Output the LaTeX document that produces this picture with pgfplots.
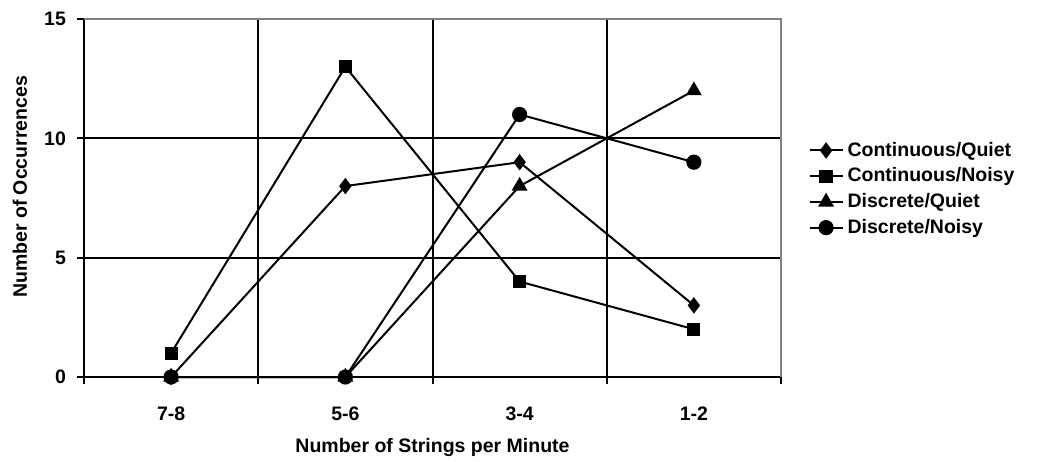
\documentclass[border=0pt]{standalone}
\usepackage{fontspec}
\setmainfont{Liberation Sans}
\usepackage{pgfplots}
\pgfplotsset{compat=1.18}
\begin{document}
\begin{tikzpicture}
\useasboundingbox (-42pt,-42pt) rectangle (485.5pt,188.5pt);
\begin{axis}[
  at={(0,0)}, anchor=south west,
  scale only axis, width=348.5pt, height=179pt,
  xmin=0, xmax=4, ymin=0, ymax=15,
  axis x line*=bottom, axis y line*=left,
  axis line style={line width=1pt, black, -},
  xtick={0.5,1.5,2.5,3.5},
  xticklabels={7-8,5-6,3-4,1-2},
  major x tick style={draw=none},
  minor xtick={0,1,2,3,4},
  minor x tick style={line width=1pt, black},
  minor tick length=3.5pt,
  ytick={0,5,10,15},
  y tick style={line width=1pt, black},
  major tick length=3.5pt,
  tick align=outside,
  extra x ticks={1,2,3}, extra x tick labels={},
  extra x tick style={grid=major, major tick length=0pt},
  extra y ticks={5,10}, extra y tick labels={},
  extra y tick style={grid=major, major tick length=0pt},
  grid style={line width=1pt, black},
  /pgf/number format/assume math mode=true,
  ticklabel style={font=\fontsize{9.75}{11}\selectfont\bfseries},
  xticklabel style={yshift=-8pt},
  yticklabel style={xshift=-2pt},
  xlabel={\fontsize{9.75}{11}\selectfont\bfseries Number of Strings per Minute},
  ylabel={\fontsize{9.75}{11}\selectfont\bfseries Number of Occurrences},
  xlabel style={at={(axis description cs:0.5,0)}, anchor=center, yshift=-35pt},
  ylabel style={at={(axis description cs:-0.0918,0.531)}, anchor=center},
  legend style={at={(axis description cs:1.039,0.525)}, anchor=west, draw=none, fill=none,
    font=\fontsize{9.75}{11}\selectfont\bfseries, row sep=0.3pt, inner sep=0pt},
  legend image code/.code={%
    \draw[mark repeat=2,mark phase=2,#1] plot coordinates {(0pt,0pt) (8.25pt,0pt) (16.5pt,0pt)};},
  legend cell align=left,
  clip=false,
]
\draw[gray, line width=1pt] (rel axis cs:0,1) -- (rel axis cs:1,1) -- (rel axis cs:1,0);
\addplot[black, line width=1pt, mark=diamond*, mark size=3.3pt] coordinates {(0.5,0) (1.5,8) (2.5,9) (3.5,3)};
\addlegendentry{Continuous/Quiet}
\addplot[black, line width=1pt, mark=square*, mark size=2.8pt] coordinates {(0.5,1) (1.5,13) (2.5,4) (3.5,2)};
\addlegendentry{Continuous/Noisy}
\addplot[black, line width=1pt, mark=triangle*, mark size=3.6pt] coordinates {(0.5,0) (1.5,0) (2.5,8) (3.5,12)};
\addlegendentry{Discrete/Quiet}
\addplot[black, line width=1pt, mark=*, mark size=3.3pt] coordinates {(0.5,0) (1.5,0) (2.5,11) (3.5,9)};
\addlegendentry{Discrete/Noisy}
\end{axis}
\end{tikzpicture}
\end{document}
